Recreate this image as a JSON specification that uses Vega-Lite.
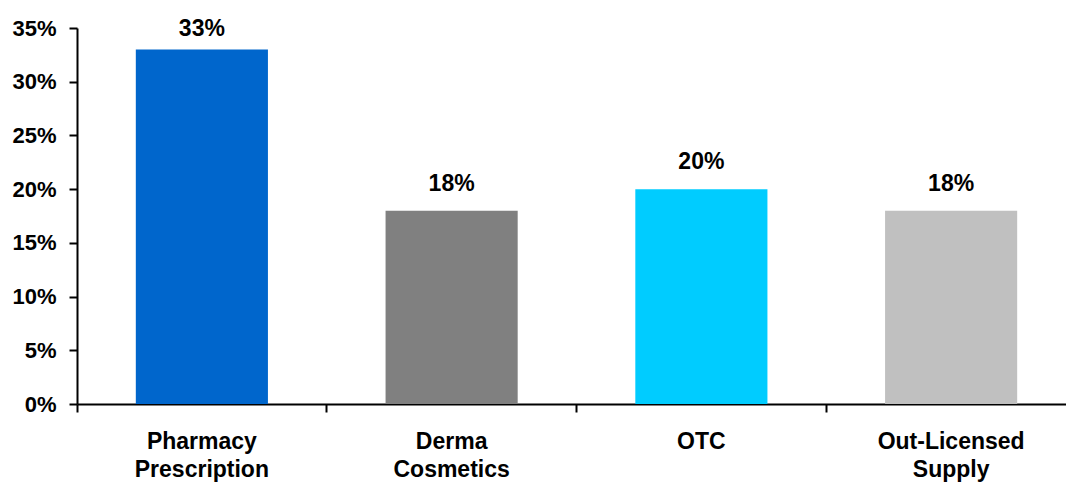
{
  "$schema": "https://vega.github.io/schema/vega-lite/v6.json",
  "autosize": "none",
  "padding": {"left": 77, "top": 28, "right": 0, "bottom": 78},
  "width": 989,
  "height": 376,
  "background": "white",
  "config": {"view": {"stroke": null}, "font": "Liberation Sans"},
  "data": {
    "values": [
      {"category": "Pharmacy Prescription", "share": 0.33},
      {"category": "Derma Cosmetics", "share": 0.18},
      {"category": "OTC", "share": 0.20},
      {"category": "Out-Licensed Supply", "share": 0.18}
    ]
  },
  "encoding": {
    "x": {
      "field": "category",
      "type": "nominal",
      "sort": null,
      "scale": {"range": [0, 999], "paddingInner": 0, "paddingOuter": 0},
      "axis": {
        "title": null,
        "labelAngle": 0,
        "bandPosition": 0,
        "labelExpr": "split(datum.label, ' ')",
        "labelFont": "Liberation Sans",
        "labelFontSize": 23,
        "labelFontWeight": "bold",
        "labelColor": "black",
        "labelBaseline": "alphabetic",
        "labelLineHeight": 28,
        "labelPadding": 36,
        "labelAlign": "center",
        "domainColor": "black",
        "domainWidth": 2,
        "tickColor": "black",
        "tickWidth": 2,
        "tickSize": 8,
        "grid": false
      }
    }
  },
  "layer": [
    {
      "mark": {"type": "bar", "width": {"band": 0.529}},
      "encoding": {
        "y": {
          "field": "share",
          "type": "quantitative",
          "scale": {"domain": [0, 0.35], "nice": false},
          "axis": {
            "title": null,
            "values": [0, 0.05, 0.1, 0.15, 0.2, 0.25, 0.3, 0.35],
            "format": ".0%",
            "grid": false,
            "labelFont": "Liberation Sans",
            "labelFontSize": 22,
            "labelFontWeight": "bold",
            "labelColor": "black",
            "labelPadding": 13,
            "domainColor": "black",
            "domainWidth": 2,
            "tickColor": "black",
            "tickWidth": 2,
            "tickSize": 8
          }
        },
        "color": {
          "field": "category",
          "type": "nominal",
          "legend": null,
          "scale": {
            "domain": ["Pharmacy Prescription", "Derma Cosmetics", "OTC", "Out-Licensed Supply"],
            "range": ["#0066CC", "#808080", "#00CCFF", "#C0C0C0"]
          }
        }
      }
    },
    {
      "mark": {
        "type": "text",
        "baseline": "alphabetic",
        "dy": {"expr": "datum.share > 0.3 ? -13 : -20"},
        "font": "Liberation Sans",
        "fontSize": 23,
        "fontWeight": "bold",
        "color": "black"
      },
      "encoding": {
        "y": {"field": "share", "type": "quantitative"},
        "text": {"field": "share", "type": "quantitative", "format": ".0%"}
      }
    }
  ]
}
